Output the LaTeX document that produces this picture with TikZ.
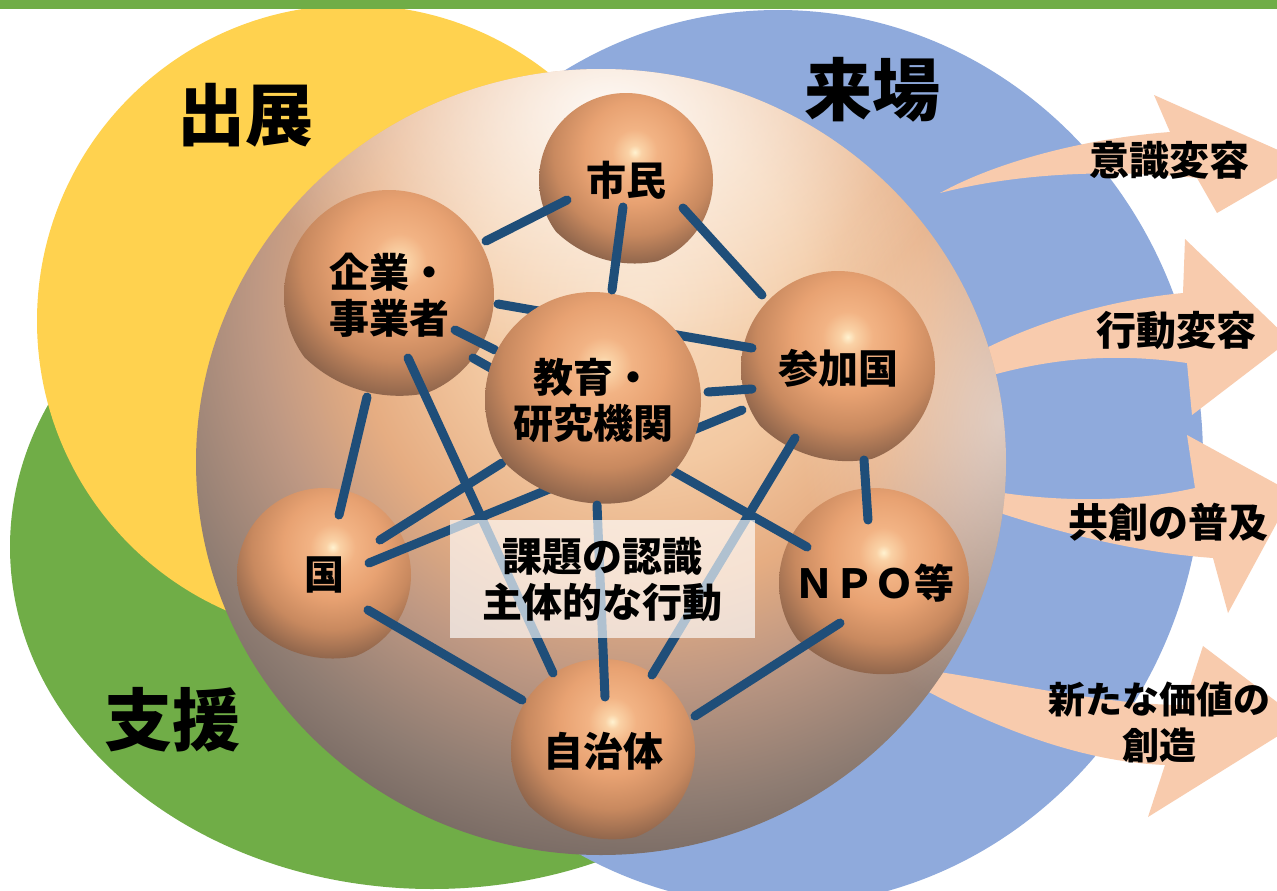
\documentclass[tikz,border=0pt]{standalone}
\usepackage{fontspec}
\setmainfont{Noto Sans CJK JP}
\usetikzlibrary{calc,fadings}
\definecolor{gbar}{HTML}{70AD47}
\definecolor{yel}{HTML}{FFD24F}
\definecolor{blu}{HTML}{8FAADC}
\definecolor{lin}{HTML}{1F4E79}
\definecolor{arr}{HTML}{F8CBAD}
\definecolor{bz}{HTML}{F8DCC0}
\definecolor{ba}{HTML}{F3C9A2}
\definecolor{bb}{HTML}{E6AD82}
\definecolor{bc}{HTML}{BE9883}
\definecolor{bd}{HTML}{8E7C72}
\definecolor{be}{HTML}{6E625D}
\definecolor{oz}{HTML}{FFF2D0}
\definecolor{oa}{HTML}{FAD2A6}
\definecolor{ob}{HTML}{F2B384}
\definecolor{oc}{HTML}{E8A272}
\definecolor{od}{HTML}{C8895F}
\definecolor{oe}{HTML}{8A624A}
\pgfdeclareradialshading{bigsh}{\pgfpoint{0bp}{0bp}}{color(0bp)=(bz); color(7bp)=(ba); color(12bp)=(bb); color(16bp)=(bc); color(21bp)=(bd); color(25bp)=(be); color(50bp)=(be)}
\pgfdeclareradialshading{ballsh}{\pgfpoint{0bp}{0bp}}{color(0bp)=(oz); color(1.5bp)=(oa); color(5bp)=(ob); color(11bp)=(oc); color(18bp)=(od); color(25bp)=(oe); color(50bp)=(oe)}
\tikzfading[name=glow, inner color=transparent!0, outer color=transparent!100]
\pgfdeclarelayer{bg}
\pgfdeclarelayer{low}
\pgfdeclarelayer{mid}
\pgfdeclarelayer{top}
\pgfsetlayers{bg,low,mid,main,top}
\begin{document}
\begin{tikzpicture}[x=1pt,y=-1pt,
  lbl/.style={font=\bfseries\fontsize{40}{46}\selectfont, align=center, text=black},
  big/.style={font=\bfseries\fontsize{68}{72}\selectfont, text=black},
  ball/.style={circle, inner sep=0pt, minimum size=2*#1, lbl,
    path picture={\shade[shading=ballsh]
      ($(path picture bounding box.center)!0.34!(path picture bounding box.north)+0.1*(path picture bounding box.east)-0.1*(path picture bounding box.center)$)
      circle (1.3*#1);}},
  link/.style={draw=lin, line width=9pt, line cap=round},
  arrowbody/.style={fill=arr}]
\useasboundingbox (0,0) rectangle (1277,891);
\begin{pgfonlayer}{bg}
\clip (0,0) rectangle (1277,891);
\fill[white] (0,0) rectangle (1277,891);
% three circles
\fill[gbar] (432,547) ellipse [x radius=422, y radius=342];
\fill[blu] (778,458) ellipse [x radius=425, y radius=448];
\fill[yel] (353,321) circle (316);
\fill[gbar] (0,0) rectangle (1277,9);
% arrows
\fill[arrowbody] (940,193) .. controls (1000,160) and (1090,138) .. (1170,132) -- (1154,95) -- (1305,162) -- (1217,213) -- (1197,178) .. controls (1100,168) and (1010,175) .. (940,193) -- cycle;
\fill[arrowbody] (960,362) .. controls (1030,322) and (1110,300) .. (1183,293) -- (1185,239) -- (1290,340) -- (1192,415) -- (1187,363) .. controls (1110,352) and (1040,358) .. (960,385) -- cycle;
\fill[arrowbody] (985,490) .. controls (1040,500) and (1120,505) .. (1195,488) -- (1187,435) -- (1293,493) -- (1228,613) -- (1213,558) .. controls (1130,552) and (1050,530) .. (985,508) -- cycle;
\fill[arrowbody] (925,670) .. controls (1000,680) and (1100,705) .. (1184,705) -- (1203,646) -- (1302,721) -- (1148,817) -- (1165,765) .. controls (1090,762) and (1010,735) .. (925,690) -- cycle;
% big sphere
\begin{scope}
\clip (601,462) ellipse [x radius=405, y radius=393];
\shade[shading=bigsh] (640,300) circle (600);
\fill[white, path fading=glow, fill opacity=0.9] (610,110) ellipse [x radius=360, y radius=250];
\fill[white, path fading=glow, fill opacity=0.5] (1000,420) ellipse [x radius=200, y radius=300];
\end{scope}
% big labels
\node[big] (shutten) at (245,115) {出展};
\node[big] (raijo) at (872,90) {来場};
\node[big] (shien) at (172,720) {支援};
\end{pgfonlayer}
% small spheres
\begin{pgfonlayer}{low}
\node[ball=87] (shimin) at (626,180) {市民};
\node[ball=105] (kigyo) at (389,295) {企業・\\事業者};
\node[ball=97] (sanka) at (838,368) {参加国};
\node[ball=87] (kuni) at (324,575) {国};
\node[ball=95] (npo) at (874,583) {ＮＰＯ等};
\node[ball=92] (jichi) at (603,751) {自治体};
\end{pgfonlayer}
% central sphere
\node[ball=108] (kyoiku) at (593,400) {教育・\\研究機関};
% lines under the central sphere
\begin{pgfonlayer}{mid}
\draw[link] ($(kigyo)+(109,9)$) -- ($(sanka)+(-86,-20)$);
\draw[link] ($(kigyo)+(66,35)$) -- ($(kyoiku)+(-98,-50)$);
\draw[link] ($(kigyo)+(84,63)$) -- ($(npo)+(-67,-36)$);
\draw[link] ($(kuni)+(56,-35)$) -- ($(kyoiku)+(-91,63)$);
\draw[link] ($(kuni)+(45,-12)$) -- ($(sanka)+(-96,42)$);
\draw[link] ($(kyoiku)+(115,-8)$) -- ($(sanka)+(-86,21)$);
\end{pgfonlayer}
% other lines and texts
\begin{pgfonlayer}{top}
\draw[link] ($(shimin)+(-59,20)$) -- ($(kigyo)+(97,-54)$);
\draw[link] ($(shimin)+(-3,27)$) -- ($(kyoiku)+(19,-110)$);
\draw[link] ($(shimin)+(57,28)$) -- ($(sanka)+(-76,-73)$);
\draw[link] ($(kigyo)+(-22,102)$) -- ($(kuni)+(15,-60)$);
\draw[link] ($(kigyo)+(19,63)$) -- ($(jichi)+(-50,-78)$);
\draw[link] ($(kuni)+(44,35)$) -- ($(jichi)+(-81,-51)$);
\draw[link] ($(kyoiku)+(4,105)$) -- ($(jichi)+(2,-54)$);
\draw[link] ($(sanka)+(-43,70)$) -- ($(jichi)+(49,-76)$);
\draw[link] ($(sanka)+(26,92)$) -- ($(npo)+(-6,-63)$);
\draw[link] ($(npo)+(-34,40)$) -- ($(jichi)+(92,-35)$);
\node[lbl, fill=white, fill opacity=0.65, text opacity=1, minimum width=305pt, minimum height=118pt, inner sep=0pt] (kadai) at (602.5,579) {課題の認識\\主体的な行動};
\node[lbl] (ishiki) at (1169,160) {意識変容};
\node[lbl] (kodo) at (1176,330) {行動変容};
\node[lbl] (kyoso) at (1168,522) {共創の普及};
\node[lbl, font=\bfseries\fontsize{37}{46}\selectfont] (kachi) at (1159,722) {新たな価値の\\創造};
\end{pgfonlayer}
\end{tikzpicture}
\end{document}
